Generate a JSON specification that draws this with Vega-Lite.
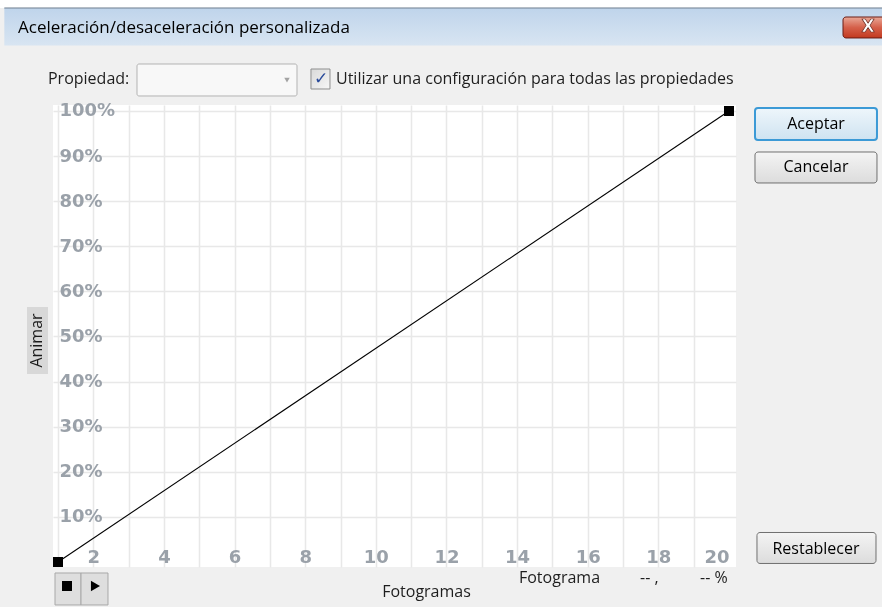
{
  "$schema": "https://vega.github.io/schema/vega-lite/v6.json",
  "width": 683,
  "height": 462,
  "autosize": {"type": "none"},
  "padding": {"left": 53, "top": 105, "right": 146, "bottom": 40},
  "background": "#f0f0f0",
  "config": {"view": {"stroke": null, "fill": "white"}, "font": "Open Sans"},
  "data": {"values": [{"frame": 1, "pct": 0}, {"frame": 20, "pct": 100}]},
  "layer": [
    {
      "mark": {"type": "line", "color": "black", "strokeWidth": 1.1},
      "encoding": {
        "x": {
          "field": "frame", "type": "quantitative",
          "scale": {"domain": [0.858, 20.198], "nice": false, "zero": false},
          "axis": {
            "values": [1, 2, 3, 4, 5, 6, 7, 8, 9, 10, 11, 12, 13, 14, 15, 16, 17, 18, 19, 20],
            "tickCount": 40,
            "format": "d",
            "labelExpr": "datum.value % 2 == 0 ? datum.label : ''",
            "grid": true,
            "gridColor": {"condition": {"test": "datum.value == 20", "value": "transparent"}, "value": "#e8e8e8"},
            "gridWidth": 1.5,
            "domain": false, "ticks": false, "tickSize": 0,
            "labelPadding": -19,
            "labelFont": "DejaVu Sans", "labelFontWeight": "bold", "labelFontSize": 18, "labelColor": "#9aa1a9",
            "labelFlush": 10, "labelOverlap": false,
            "title": "Fotogramas", "titleFont": "Open Sans", "titleFontWeight": "normal", "titleFontSize": 16, "titleColor": "#1e1e1e",
            "titleX": 373, "titleY": 24, "titleBaseline": "middle", "titleAlign": "center",
            "zindex": 0
          }
        },
        "y": {
          "field": "pct", "type": "quantitative",
          "scale": {"domain": [-1.11, 101.33], "nice": false, "zero": false},
          "axis": {
            "values": [10, 20, 30, 40, 50, 60, 70, 80, 90, 100],
            "tickCount": 40,
            "labelExpr": "datum.value + '%'",
            "grid": true, "gridColor": "#e8e8e8", "gridWidth": 1.5,
            "domain": false, "ticks": false, "tickSize": 0,
            "labelAlign": "left", "labelBaseline": "middle", "labelPadding": -6,
            "labelFont": "DejaVu Sans", "labelFontWeight": "bold", "labelFontSize": 18, "labelColor": "#9aa1a9",
            "labelOverlap": false, "labelFlush": false,
            "title": "Animar", "titleFont": "Open Sans", "titleFontWeight": "normal", "titleFontSize": 16, "titleColor": "#1e1e1e",
            "titleX": -17, "titleY": 235, "titleAngle": 270, "titleBaseline": "middle", "titleAlign": "center",
            "zindex": 0
          }
        }
      }
    },
    {
      "mark": {"type": "point", "shape": "square", "filled": true, "size": 100, "color": "black", "opacity": 1},
      "encoding": {
        "x": {"field": "frame", "type": "quantitative", "scale": {"domain": [0.858, 20.198], "nice": false, "zero": false}},
        "y": {"field": "pct", "type": "quantitative", "scale": {"domain": [-1.11, 101.33], "nice": false, "zero": false}}
      }
    },
    {
      "data": {"values": [{}]},
      "mark": {"type": "rect", "color": "white", "clip": false},
      "encoding": {
        "x": {"datum": -1, "type": "quantitative"},
        "x2": {"datum": 25},
        "y": {"datum": 124.8, "type": "quantitative"},
        "y2": {"datum": 122.84}
      }
    },
    {
      "data": {"values": [{}]},
      "mark": {"type": "rect", "clip": false, "color": {"gradient": "linear", "x1": 0, "y1": 0, "x2": 0, "y2": 1, "stops": [{"offset": 0, "color": "#bfd4eb"}, {"offset": 1, "color": "#d8e5f2"}]}},
      "encoding": {
        "x": {"datum": -0.52, "type": "quantitative"},
        "x2": {"datum": 25},
        "y": {"datum": 122.84, "type": "quantitative"},
        "y2": {"datum": 114.5}
      }
    },
    {
      "data": {"values": [{}]},
      "mark": {"type": "rule", "color": "#6d7d8e", "strokeWidth": 1, "clip": false},
      "encoding": {
        "x": {"datum": -0.52, "type": "quantitative"},
        "x2": {"datum": 25},
        "y": {"datum": 122.84, "type": "quantitative"}
      }
    },
    {
      "data": {"values": [{}]},
      "mark": {"type": "text", "text": "Aceleración/desaceleración personalizada", "align": "left", "baseline": "middle", "fontSize": 17, "color": "#000000", "clip": false},
      "encoding": {
        "x": {"datum": -0.133, "type": "quantitative"},
        "y": {"datum": 118.4, "type": "quantitative"}
      }
    },
    {
      "data": {"values": [{}]},
      "mark": {"type": "rect", "clip": false, "cornerRadius": 3, "stroke": "#6b1d14", "strokeWidth": 1, "color": {"gradient": "linear", "x1": 0, "y1": 0, "x2": 0, "y2": 1, "stops": [{"offset": 0, "color": "#e9a897"}, {"offset": 0.5, "color": "#d5604a"}, {"offset": 1, "color": "#c2391f"}]}},
      "encoding": {
        "x": {"datum": 23.228, "type": "quantitative"},
        "x2": {"datum": 24.8},
        "y": {"datum": 120.84, "type": "quantitative"},
        "y2": {"datum": 116.19}
      }
    },
    {
      "data": {"values": [{}]},
      "mark": {"type": "text", "text": "X", "align": "center", "baseline": "middle", "fontSize": 17, "fontWeight": "bold", "font": "DejaVu Sans", "color": "white", "stroke": "#6a2a20", "strokeWidth": 0.7, "clip": false},
      "encoding": {
        "x": {"datum": 23.935, "type": "quantitative"},
        "y": {"datum": 118.62, "type": "quantitative"}
      }
    },
    {
      "data": {"values": [{}]},
      "mark": {"type": "text", "text": "Propiedad:", "align": "left", "baseline": "middle", "fontSize": 16, "color": "#1e1e1e", "clip": false},
      "encoding": {
        "x": {"datum": 0.716, "type": "quantitative"},
        "y": {"datum": 107.1, "type": "quantitative"}
      }
    },
    {
      "data": {"values": [{}]},
      "mark": {"type": "rect", "clip": false, "cornerRadius": 2, "stroke": "#b3b3b3", "strokeWidth": 1, "color": "#f8f8f8"},
      "encoding": {
        "x": {"datum": 3.237, "type": "quantitative"},
        "x2": {"datum": 7.767},
        "y": {"datum": 110.42, "type": "quantitative"},
        "y2": {"datum": 103.33}
      }
    },
    {
      "data": {"values": [{}]},
      "mark": {"type": "point", "shape": "triangle-down", "filled": true, "size": 30, "color": "#a3a3a3", "opacity": 1, "clip": false},
      "encoding": {
        "x": {"datum": 7.484, "type": "quantitative"},
        "y": {"datum": 106.87, "type": "quantitative"}
      }
    },
    {
      "data": {"values": [{}]},
      "mark": {"type": "rect", "clip": false, "stroke": "#8e8f8f", "strokeWidth": 1, "color": {"gradient": "linear", "x1": 0, "y1": 0, "x2": 1, "y2": 1, "stops": [{"offset": 0, "color": "#d9d9d9"}, {"offset": 1, "color": "#f7f7f7"}]}},
      "encoding": {
        "x": {"datum": 8.163, "type": "quantitative"},
        "x2": {"datum": 8.701},
        "y": {"datum": 109.31, "type": "quantitative"},
        "y2": {"datum": 104.88}
      }
    },
    {
      "data": {"values": [{}]},
      "mark": {"type": "text", "text": "✓", "align": "center", "baseline": "middle", "fontSize": 17, "fontWeight": "bold", "font": "DejaVu Sans", "color": "#2a4b9b", "clip": false},
      "encoding": {
        "x": {"datum": 8.447, "type": "quantitative"},
        "y": {"datum": 107.2, "type": "quantitative"}
      }
    },
    {
      "data": {"values": [{}]},
      "mark": {"type": "text", "text": "Utilizar una configuración para todas las propiedades", "align": "left", "baseline": "middle", "fontSize": 16, "color": "#1e1e1e", "clip": false},
      "encoding": {
        "x": {"datum": 8.871, "type": "quantitative"},
        "y": {"datum": 107.1, "type": "quantitative"}
      }
    },
    {
      "data": {"values": [{}]},
      "mark": {"type": "rect", "clip": false, "cornerRadius": 3, "stroke": "#3c9ad6", "strokeWidth": 2, "color": {"gradient": "linear", "x1": 0, "y1": 0, "x2": 0, "y2": 1, "stops": [{"offset": 0, "color": "#eef6fb"}, {"offset": 1, "color": "#cfe3f1"}]}},
      "encoding": {
        "x": {"datum": 20.736, "type": "quantitative"},
        "x2": {"datum": 24.19},
        "y": {"datum": 100.665, "type": "quantitative"},
        "y2": {"datum": 93.57}
      }
    },
    {
      "data": {"values": [{}]},
      "mark": {"type": "text", "text": "Aceptar", "align": "center", "baseline": "middle", "fontSize": 16, "color": "#000000", "clip": false},
      "encoding": {
        "x": {"datum": 22.463, "type": "quantitative"},
        "y": {"datum": 97.12, "type": "quantitative"}
      }
    },
    {
      "data": {"values": [{}]},
      "mark": {"type": "rect", "clip": false, "cornerRadius": 3, "stroke": "#707070", "strokeWidth": 1, "color": {"gradient": "linear", "x1": 0, "y1": 0, "x2": 0, "y2": 1, "stops": [{"offset": 0, "color": "#f4f4f4"}, {"offset": 1, "color": "#dcdcdc"}]}},
      "encoding": {
        "x": {"datum": 20.736, "type": "quantitative"},
        "x2": {"datum": 24.19},
        "y": {"datum": 90.91, "type": "quantitative"},
        "y2": {"datum": 84.04}
      }
    },
    {
      "data": {"values": [{}]},
      "mark": {"type": "text", "text": "Cancelar", "align": "center", "baseline": "middle", "fontSize": 16, "color": "#000000", "clip": false},
      "encoding": {
        "x": {"datum": 22.463, "type": "quantitative"},
        "y": {"datum": 87.58, "type": "quantitative"}
      }
    },
    {
      "data": {"values": [{}]},
      "mark": {"type": "rect", "clip": false, "cornerRadius": 3, "stroke": "#707070", "strokeWidth": 1, "color": {"gradient": "linear", "x1": 0, "y1": 0, "x2": 0, "y2": 1, "stops": [{"offset": 0, "color": "#f4f4f4"}, {"offset": 1, "color": "#dcdcdc"}]}},
      "encoding": {
        "x": {"datum": 20.792, "type": "quantitative"},
        "x2": {"datum": 24.162},
        "y": {"datum": 6.54, "type": "quantitative"},
        "y2": {"datum": -0.33}
      }
    },
    {
      "data": {"values": [{}]},
      "mark": {"type": "text", "text": "Restablecer", "align": "center", "baseline": "middle", "fontSize": 16, "color": "#000000", "clip": false},
      "encoding": {
        "x": {"datum": 22.463, "type": "quantitative"},
        "y": {"datum": 2.88, "type": "quantitative"}
      }
    },
    {
      "data": {"values": [{}]},
      "mark": {"type": "rect", "clip": false, "stroke": "#a8a8a8", "strokeWidth": 1, "color": "#dedede"},
      "encoding": {
        "x": {"datum": 0.915, "type": "quantitative"},
        "x2": {"datum": 1.651},
        "y": {"datum": -2.44, "type": "quantitative"},
        "y2": {"datum": -9.53}
      }
    },
    {
      "data": {"values": [{}]},
      "mark": {"type": "rect", "clip": false, "stroke": "#a8a8a8", "strokeWidth": 1, "color": "#dedede"},
      "encoding": {
        "x": {"datum": 1.651, "type": "quantitative"},
        "x2": {"datum": 2.415},
        "y": {"datum": -2.44, "type": "quantitative"},
        "y2": {"datum": -9.53}
      }
    },
    {
      "data": {"values": [{}]},
      "mark": {"type": "point", "shape": "square", "filled": true, "size": 100, "color": "black", "opacity": 1, "clip": false},
      "encoding": {
        "x": {"datum": 1.254, "type": "quantitative"},
        "y": {"datum": -5.32, "type": "quantitative"}
      }
    },
    {
      "data": {"values": [{}]},
      "mark": {"type": "point", "shape": "triangle-right", "filled": true, "size": 110, "color": "black", "opacity": 1, "clip": false},
      "encoding": {
        "x": {"datum": 2.06, "type": "quantitative"},
        "y": {"datum": -5.32, "type": "quantitative"}
      }
    },
    {
      "data": {"values": [{}]},
      "mark": {"type": "text", "text": "Fotograma", "align": "left", "baseline": "middle", "fontSize": 16, "color": "#1e1e1e", "clip": false},
      "encoding": {
        "x": {"datum": 14.053, "type": "quantitative"},
        "y": {"datum": -3.55, "type": "quantitative"}
      }
    },
    {
      "data": {"values": [{}]},
      "mark": {"type": "text", "text": "-- ,", "align": "left", "baseline": "middle", "fontSize": 16, "color": "#1e1e1e", "clip": false},
      "encoding": {
        "x": {"datum": 17.479, "type": "quantitative"},
        "y": {"datum": -3.55, "type": "quantitative"}
      }
    },
    {
      "data": {"values": [{}]},
      "mark": {"type": "text", "text": "-- %", "align": "left", "baseline": "middle", "fontSize": 16, "color": "#1e1e1e", "clip": false},
      "encoding": {
        "x": {"datum": 19.178, "type": "quantitative"},
        "y": {"datum": -3.55, "type": "quantitative"}
      }
    },
    {
      "data": {"values": [{}]},
      "mark": {"type": "rect", "clip": false, "color": "#e6e6e6", "blend": "multiply"},
      "encoding": {
        "x": {"datum": 0.122, "type": "quantitative"},
        "x2": {"datum": 0.716},
        "y": {"datum": 56.54, "type": "quantitative"},
        "y2": {"datum": 41.68}
      }
    }
  ]
}
